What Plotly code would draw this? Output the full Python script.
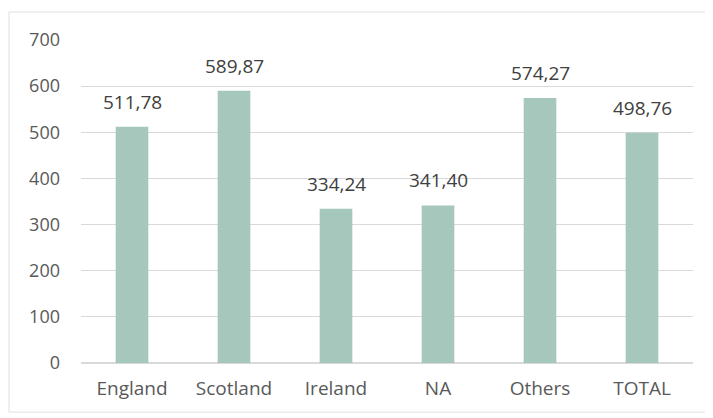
import plotly.graph_objects as go

categories = ["England", "Scotland", "Ireland", "NA", "Others", "TOTAL"]
values = [511.78, 589.87, 334.24, 341.40, 574.27, 498.76]
labels = [f"{v:.2f}".replace(".", ",") for v in values]
y_ticks = [0, 100, 200, 300, 400, 500, 600, 700]

fig = go.Figure()
fig.add_trace(go.Bar(
    x=categories, y=values,
    marker=dict(color="#a5c7bc", line=dict(width=0)),
    width=0.32,
))
for c, v, t in zip(categories, values, labels):
    fig.add_annotation(x=c, y=v, text=t, showarrow=False, yanchor="bottom",
                       yshift=10, font=dict(size=19, color="#404040"))
fig.update_layout(
    width=713, height=418,
    margin=dict(l=73, r=28, t=32, b=63),
    paper_bgcolor="white", plot_bgcolor="white",
    font=dict(family="Open Sans, Lato, sans-serif", color="#595959", size=18),
    showlegend=False,
    xaxis=dict(showgrid=False, showline=False, ticks="", ticklabelstandoff=12,
               tickfont=dict(size=19, color="#595959")),
    yaxis=dict(range=[0, 700], tickvals=y_ticks, showgrid=True, gridcolor="#d9d9d9",
               gridwidth=1, zeroline=True, zerolinecolor="#d9d9d9", ticks="",
               ticklabelstandoff=20, tickfont=dict(size=18, color="#595959")),
    shapes=[dict(type="rect", xref="paper", yref="paper", x0=-0.1176, x1=1.026,
                 y0=-0.152, y1=1.0867, line=dict(color="#e0e0e0", width=1))],
)
fig.write_html("out.html")
